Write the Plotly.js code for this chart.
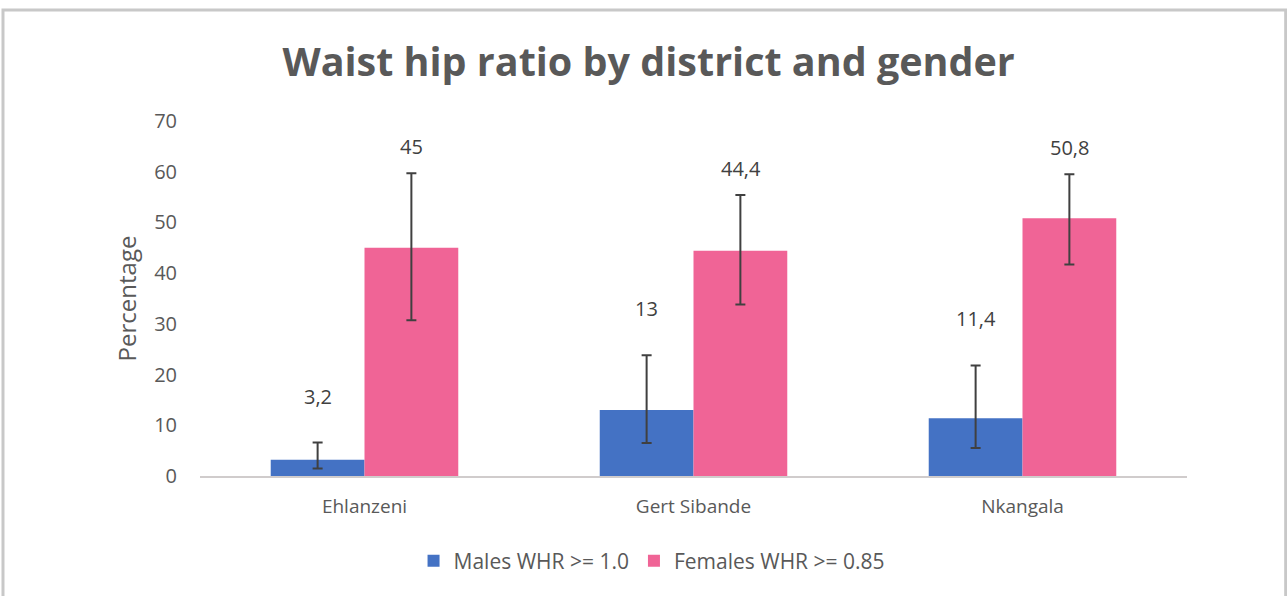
<!DOCTYPE html>
<html>
<head>
<meta charset="utf-8">
<script src="https://cdn.plot.ly/plotly-3.0.1.min.js"></script>
<style>
  html, body { margin: 0; padding: 0; background: #fff; }
  #chart { width: 1287px; height: 596px; }
</style>
</head>
<body>
<div id="chart"></div>
<script>
// ---- data ----
const districts = ["Ehlanzeni", "Gert Sibande", "Nkangala"];
const maleName = "Males WHR >= 1.0";
const femaleName = "Females WHR >= 0.85";
const maleValues = [3.2, 13, 11.4];
const maleUpper = [6.6, 23.8, 21.8];
const maleLower = [1.5, 6.5, 5.5];
const femaleValues = [45, 44.4, 50.8];
const femaleUpper = [59.7, 55.4, 59.5];
const femaleLower = [30.7, 33.8, 41.7];
const maleLabels = ["3,2", "13", "11,4"];
const femaleLabels = ["45", "44,4", "50,8"];
const yTicks = [0, 10, 20, 30, 40, 50, 60, 70];

const fontFam = "'Open Sans', 'Noto Sans', sans-serif";
const txtColor = "#595959";

function errSpec(vals, up, lo) {
  return {
    type: "data", symmetric: false,
    array: up.map((u, i) => u - vals[i]),
    arrayminus: vals.map((v, i) => v - lo[i]),
    color: "#404040", thickness: 2, width: 5
  };
}

const traces = [
  {
    type: "bar", name: maleName, x: districts, y: maleValues,
    marker: { color: "#4472C4" },
    error_y: errSpec(maleValues, maleUpper, maleLower),
    hoverinfo: "none"
  },
  {
    type: "bar", name: femaleName, x: districts, y: femaleValues,
    marker: { color: "#F06496" },
    error_y: errSpec(femaleValues, femaleUpper, femaleLower),
    hoverinfo: "none"
  }
];

const annotations = [];
districts.forEach((d, i) => {
  annotations.push({
    x: d, y: maleUpper[i], xref: "x", yref: "y", text: maleLabels[i],
    showarrow: false, xshift: -47, yanchor: "bottom", yshift: 31,
    font: { family: fontFam, size: 20, color: "#404040" }
  });
  annotations.push({
    x: d, y: femaleUpper[i], xref: "x", yref: "y", text: femaleLabels[i],
    showarrow: false, xshift: 47, yanchor: "bottom", yshift: 11,
    font: { family: fontFam, size: 20, color: "#404040" }
  });
});

const layout = {
  width: 1287, height: 596,
  margin: { l: 200, r: 100, t: 121, b: 120, pad: 0 },
  paper_bgcolor: "#fff", plot_bgcolor: "#fff",
  title: {
    text: "<b>Waist hip ratio by district and gender</b>",
    font: { family: fontFam, size: 39.5, color: txtColor },
    x: 0.504, xanchor: "center", y: 0.895, yanchor: "middle", xref: "container"
  },
  barmode: "group", bargap: 0.43, bargroupgap: 0,
  xaxis: {
    type: "category", showgrid: false, showline: true, linecolor: "#d0cccc", linewidth: 2,
    ticks: "", tickfont: { family: fontFam, size: 19, color: txtColor },
    ticklabelstandoff: 12
  },
  yaxis: {
    range: [0, 70], tickvals: yTicks, ticktext: yTicks.map(String),
    showgrid: false, zeroline: false, showline: false, ticks: "",
    tickfont: { family: fontFam, size: 20, color: txtColor },
    ticklabelstandoff: 22,
    title: { text: "Percentage", font: { family: fontFam, size: 24, color: txtColor }, standoff: 10 }
  },
  showlegend: true,
  legend: {
    orientation: "h", x: 0.458, xanchor: "center", y: -0.24, yanchor: "middle",
    font: { family: fontFam, size: 21, color: txtColor },
    itemwidth: 30, traceorder: "normal"
  },
  annotations: annotations,
  shapes: [{
    type: "rect", xref: "paper", yref: "paper",
    x0: -0.1996, x1: 1.1, y0: -0.4, y1: 1.3125,
    line: { color: "#c8c8c8", width: 3 }, fillcolor: "rgba(0,0,0,0)", layer: "below"
  }]
};

Plotly.newPlot("chart", traces, layout, { displayModeBar: false, staticPlot: true });
</script>
</body>
</html>
